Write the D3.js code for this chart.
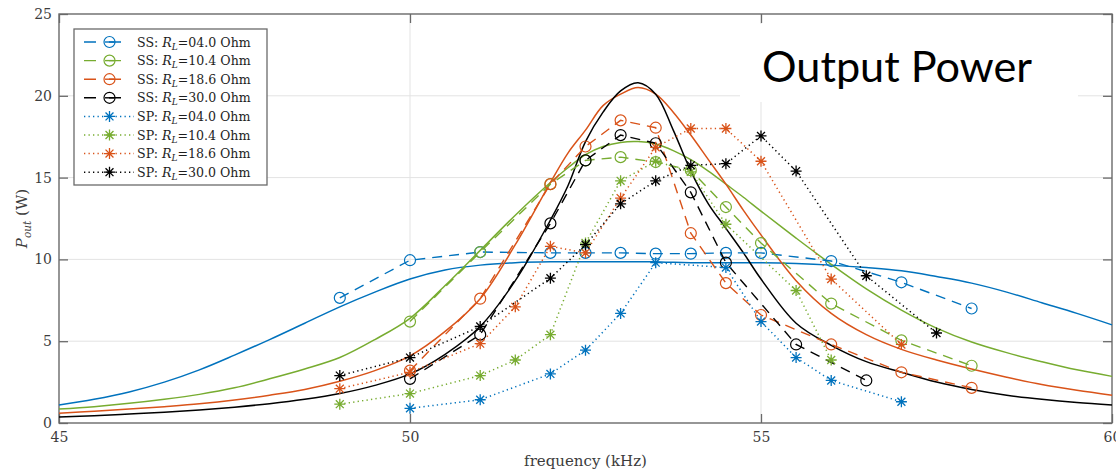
<!DOCTYPE html>
<html>
<head>
<meta charset="utf-8">
<script src="https://cdn.jsdelivr.net/npm/d3@7/dist/d3.min.js"></script>
<style>
  body { margin: 0; background: #fff; }
  svg { display: block; }
  svg text { font-family: "DejaVu Serif", serif; }
</style>
</head>
<body>
<div id="chart"></div>
<script>
const width = 1116;
const height = 473;

// simulated output power (solid curves), sampled on one frequency grid (kHz)
const simFreq = [45, 45.5, 46, 46.5, 47, 47.5, 48, 48.5, 49, 49.5, 50, 50.5, 51, 51.5, 52,
  52.25, 52.5, 52.75, 53, 53.25, 53.5, 53.75, 54, 54.25, 54.5, 54.75, 55,
  55.5, 56, 56.5, 57, 57.5, 58, 58.5, 59, 59.5, 60];
const sim04 = [1.1, 1.45, 1.9, 2.5, 3.25, 4.15, 5.1, 6.1, 7.1, 8.0, 8.8, 9.35, 9.65, 9.8, 9.85,
  9.85, 9.85, 9.85, 9.85, 9.85, 9.85, 9.82, 9.8, 9.8, 9.8, 9.8, 9.8,
  9.75, 9.65, 9.5, 9.3, 8.95, 8.55, 8.0, 7.35, 6.7, 6.0];
const sim104 = [0.85, 1.0, 1.2, 1.45, 1.75, 2.15, 2.7, 3.3, 4.0, 5.1, 6.4, 8.4, 10.55, 12.7, 14.7,
  15.6, 16.4, 16.9, 17.15, 17.2, 17.05, 16.65, 16.1, 15.4, 14.6, 13.8, 12.95,
  11.3, 9.7, 8.2, 6.9, 5.8, 4.95, 4.3, 3.75, 3.25, 2.85];
const sim186 = [0.6, 0.72, 0.85, 1.0, 1.17, 1.4, 1.7, 2.05, 2.55, 3.2, 4.1, 5.6, 7.6, 10.9, 14.7,
  16.5, 17.9, 19.4, 20.1, 20.5, 20.1, 19.0, 17.6, 16.1, 14.6, 13.0, 11.5,
  8.7, 6.7, 5.4, 4.5, 3.85, 3.3, 2.8, 2.35, 2.0, 1.7];
const sim300 = [0.37, 0.45, 0.55, 0.66, 0.8, 0.97, 1.18, 1.45, 1.8, 2.3, 3.0, 4.2, 5.9, 8.7, 12.4,
  14.5, 17.2, 19.0, 20.3, 20.8, 20.1, 17.9, 15.4, 13.4, 11.9, 10.4, 8.8,
  6.1, 4.75, 3.75, 3.1, 2.5, 2.05, 1.7, 1.45, 1.25, 1.1];

// measured, series-series (SS) compensation
const ssFreq04 = [49, 50, 51, 52, 52.5, 53, 53.5, 54, 54.5, 55, 56, 57, 58];
const ssPow04 = [7.65, 9.95, 10.45, 10.4, 10.4, 10.4, 10.35, 10.35, 10.4, 10.4, 9.9, 8.6, 7.0];
const ssFreq104 = [50, 51, 52, 52.5, 53, 53.5, 54, 54.5, 55, 56, 57, 58];
const ssPow104 = [6.2, 10.45, 14.6, 16.05, 16.25, 15.95, 15.45, 13.2, 11.0, 7.3, 5.05, 3.5];
const ssFreq186 = [50, 51, 52, 52.5, 53, 53.5, 54, 54.5, 55, 56, 57, 58];
const ssPow186 = [3.2, 7.6, 14.6, 16.9, 18.5, 18.05, 11.6, 8.55, 6.6, 4.8, 3.1, 2.15];
const ssFreq300 = [50, 51, 52, 52.5, 53, 53.5, 54, 54.5, 55.5, 56.5];
const ssPow300 = [2.7, 5.4, 12.2, 16.05, 17.6, 17.1, 14.1, 9.8, 4.8, 2.6];

// measured, series-parallel (SP) compensation
const spFreq04 = [50, 51, 52, 52.5, 53, 53.5, 54.5, 55, 55.5, 56, 57];
const spPow04 = [0.9, 1.42, 3.0, 4.45, 6.7, 9.8, 9.5, 6.2, 4.0, 2.6, 1.3];
const spFreq104 = [49, 50, 51, 51.5, 52, 52.5, 53, 53.5, 54, 54.5, 55.5, 56];
const spPow104 = [1.15, 1.8, 2.9, 3.85, 5.4, 11.0, 14.8, 16.0, 15.35, 12.15, 8.1, 3.85];
const spFreq186 = [49, 50, 51, 51.5, 52, 52.5, 53, 53.5, 54, 54.5, 55, 56, 57];
const spPow186 = [2.1, 3.1, 4.85, 7.1, 10.8, 10.4, 13.75, 16.85, 18.0, 18.0, 16.0, 8.8, 4.8];
const spFreq300 = [49, 50, 51, 52, 52.5, 53, 53.5, 54, 54.5, 55, 55.5, 56.5, 57.5];
const spPow300 = [2.9, 4.0, 5.9, 8.85, 10.9, 13.4, 14.8, 15.75, 15.85, 17.55, 15.4, 9.0, 5.5];

const loads = ['04.0', '10.4', '18.6', '30.0'];
const colors = ['#0072BD', '#77AC30', '#D95319', '#000000'];

const xTicks = [45, 50, 55, 60];
const yTicks = [0, 5, 10, 15, 20, 25];

const zip = (xs, ys) => xs.map((f, i) => [f, ys[i]]);

const simSeries = [sim04, sim104, sim186, sim300].map(v => zip(simFreq, v));
const ssSeries = [
  zip(ssFreq04, ssPow04), zip(ssFreq104, ssPow104),
  zip(ssFreq186, ssPow186), zip(ssFreq300, ssPow300)
];
const spSeries = [
  zip(spFreq04, spPow04), zip(spFreq104, spPow104),
  zip(spFreq186, spPow186), zip(spFreq300, spPow300)
];

const margin = { top: 14, right: 4, bottom: 50, left: 59 };
const x = d3.scaleLinear().domain([45, 60]).range([margin.left, width - margin.right]);
const y = d3.scaleLinear().domain([0, 25]).range([height - margin.bottom, margin.top]);

const svg = d3.select('#chart')
  .append('svg')
  .attr('width', width)
  .attr('height', height);

const serifGray = '#3c3c3c';
const axisGray = '#6a6a6a';

// grid
svg.append('g')
  .selectAll('line')
  .data(xTicks.slice(1, -1))
  .join('line')
  .attr('x1', d => x(d)).attr('x2', d => x(d))
  .attr('y1', y(25)).attr('y2', y(0))
  .attr('stroke', '#e3e3e3').attr('stroke-width', 1);

svg.append('g')
  .selectAll('line')
  .data(yTicks.slice(1, -1))
  .join('line')
  .attr('x1', x(45)).attr('x2', x(60))
  .attr('y1', d => y(d)).attr('y2', d => y(d))
  .attr('stroke', '#e3e3e3').attr('stroke-width', 1);

// axes: ticks point inward on all four sides
const styleAxis = g => {
  g.attr('font-family', null);
  g.select('.domain').remove();
  g.selectAll('.tick line').attr('stroke', axisGray).attr('stroke-width', 1.3);
  g.selectAll('.tick text')
    .attr('fill', serifGray)
    .style('font-size', '14px');
};

svg.append('g')
  .attr('transform', `translate(0,${y(0)})`)
  .call(d3.axisBottom(x).tickValues(xTicks).tickSize(-9).tickPadding(9).tickFormat(d3.format('d')))
  .call(styleAxis);

svg.append('g')
  .attr('transform', `translate(0,${y(25)})`)
  .call(d3.axisTop(x).tickValues(xTicks).tickSize(-9).tickFormat(''))
  .call(styleAxis);

svg.append('g')
  .attr('transform', `translate(${x(45)},0)`)
  .call(d3.axisLeft(y).tickValues(yTicks).tickSize(-9).tickPadding(7).tickFormat(d3.format('d')))
  .call(styleAxis);

svg.append('g')
  .attr('transform', `translate(${x(60)},0)`)
  .call(d3.axisRight(y).tickValues(yTicks).tickSize(-9).tickFormat(''))
  .call(styleAxis);

svg.append('rect')
  .attr('x', x(45)).attr('y', y(25))
  .attr('width', x(60) - x(45)).attr('height', y(0) - y(25))
  .attr('fill', 'none')
  .attr('stroke', axisGray)
  .attr('stroke-width', 1.4);

// axis labels
svg.append('text')
  .attr('x', (x(45) + x(60)) / 2)
  .attr('y', 466)
  .attr('text-anchor', 'middle')
  .attr('fill', serifGray)
  .style('font-size', '15px')
  .text('frequency (kHz)');

const yLabel = svg.append('text')
  .attr('transform', `translate(27,${(y(0) + y(25)) / 2}) rotate(-90)`)
  .attr('text-anchor', 'middle')
  .attr('fill', serifGray)
  .style('font-size', '15px');
yLabel.append('tspan').attr('font-style', 'italic').text('P');
yLabel.append('tspan').attr('font-style', 'italic').attr('font-size', '10.5px').attr('dy', 4).text('out');
yLabel.append('tspan').attr('dy', -4).text(' (W)');

// plot area
const plot = svg.append('g');

const smooth = d3.line()
  .x(d => x(d[0]))
  .y(d => y(d[1]))
  .curve(d3.curveCatmullRom.alpha(0.5));

const straight = d3.line()
  .x(d => x(d[0]))
  .y(d => y(d[1]));

const starPath = r => {
  const d = r * 0.72;
  return `M0,${-r}V${r}M${-r},0H${r}M${-d},${-d}L${d},${d}M${-d},${d}L${d},${-d}`;
};

simSeries.forEach((s, i) => {
  plot.append('path')
    .datum(s)
    .attr('d', smooth)
    .attr('fill', 'none')
    .attr('stroke', colors[i])
    .attr('stroke-width', 1.5);
});

ssSeries.forEach((s, i) => {
  plot.append('path')
    .datum(s)
    .attr('d', straight)
    .attr('fill', 'none')
    .attr('stroke', colors[i])
    .attr('stroke-width', 1.4)
    .attr('stroke-dasharray', '10,7');

  plot.append('g')
    .selectAll('circle')
    .data(s)
    .join('circle')
    .attr('cx', d => x(d[0]))
    .attr('cy', d => y(d[1]))
    .attr('r', 5.5)
    .attr('fill', 'none')
    .attr('stroke', colors[i])
    .attr('stroke-width', 1.2);
});

spSeries.forEach((s, i) => {
  plot.append('path')
    .datum(s)
    .attr('d', straight)
    .attr('fill', 'none')
    .attr('stroke', colors[i])
    .attr('stroke-width', 1.5)
    .attr('stroke-dasharray', '1.3,3.2');

  plot.append('g')
    .selectAll('path')
    .data(s)
    .join('path')
    .attr('transform', d => `translate(${x(d[0])},${y(d[1])})`)
    .attr('d', starPath(5.5))
    .attr('fill', 'none')
    .attr('stroke', colors[i])
    .attr('stroke-width', 1.3);
});

// legend
const legend = svg.append('g');
legend.append('rect')
  .attr('x', 74).attr('y', 29)
  .attr('width', 193).attr('height', 156)
  .attr('fill', '#fff')
  .attr('stroke', axisGray)
  .attr('stroke-width', 1.3);

const legendRows = [
  ...loads.map((l, i) => ({ kind: 'SS', load: l, color: colors[i] })),
  ...loads.map((l, i) => ({ kind: 'SP', load: l, color: colors[i] }))
];

legendRows.forEach((row, i) => {
  const ly = 42 + i * 18.6;
  const g = legend.append('g').attr('transform', `translate(0,${ly})`);
  if (row.kind === 'SS') {
    g.append('line').attr('x1', 84).attr('x2', 134).attr('y1', 0).attr('y2', 0)
      .attr('stroke', row.color).attr('stroke-width', 1.4).attr('stroke-dasharray', '12,13');
    g.append('line').attr('x1', 105).attr('x2', 114).attr('y1', 0).attr('y2', 0)
      .attr('stroke', row.color).attr('stroke-width', 1.4);
    g.append('circle').attr('cx', 109.5).attr('cy', 0).attr('r', 5.5)
      .attr('fill', 'none').attr('stroke', row.color).attr('stroke-width', 1.2);
  } else {
    g.append('line').attr('x1', 84).attr('x2', 134).attr('y1', 0).attr('y2', 0)
      .attr('stroke', row.color).attr('stroke-width', 1.5).attr('stroke-dasharray', '1.3,3.2');
    g.append('path').attr('transform', 'translate(109.5,0)').attr('d', starPath(5.5))
      .attr('fill', 'none').attr('stroke', row.color).attr('stroke-width', 1.3);
  }
  const t = g.append('text')
    .attr('x', 137).attr('y', 4.5)
    .attr('fill', '#1e1e1e')
    .style('font-size', '12.6px');
  t.append('tspan').text(`${row.kind}: `);
  t.append('tspan').attr('font-style', 'italic').text('R');
  t.append('tspan').attr('font-style', 'italic').attr('font-size', '9px').attr('dy', 3).text('L');
  t.append('tspan').attr('dy', -3).text(`=${row.load} Ohm`);
});

// slide title box
svg.append('rect')
  .attr('x', 740).attr('y', 24)
  .attr('width', 338).attr('height', 78)
  .attr('fill', '#fff');

svg.append('text')
  .attr('x', 762).attr('y', 82)
  .attr('fill', '#000')
  .style('font-family', 'Lato, "Open Sans", sans-serif')
  .style('font-size', '42px')
  .attr('textLength', 270)
  .attr('lengthAdjust', 'spacingAndGlyphs')
  .text('Output Power');
</script>
</body>
</html>
